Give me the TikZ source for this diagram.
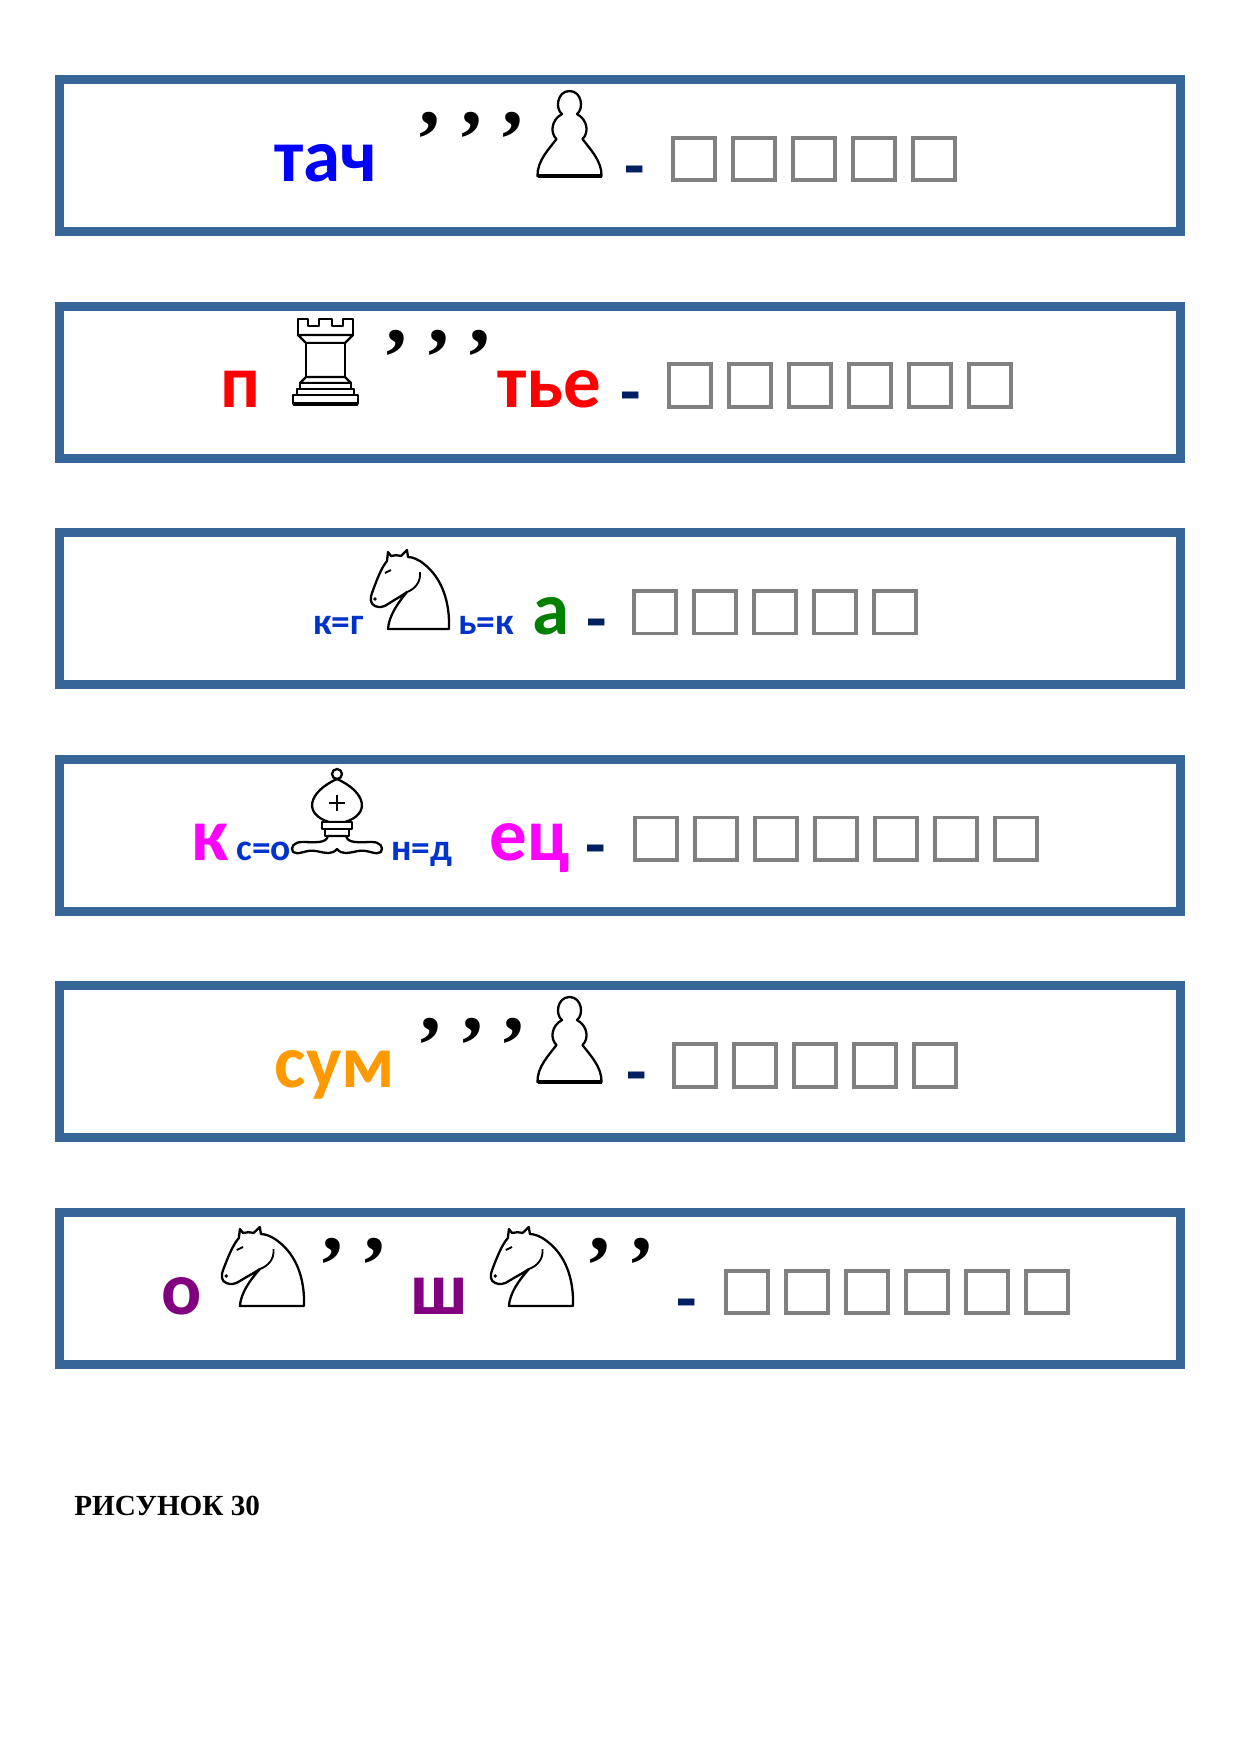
\documentclass[tikz,border=0pt]{standalone}
\usepackage{fontspec}
\setmainfont{Carlito}
\newfontfamily\markfont{Liberation Serif}

\definecolor{framecol}{RGB}{54,101,152}
\definecolor{cellgray}{RGB}{128,128,128}
\definecolor{hyphnavy}{RGB}{0,32,96}
\definecolor{hintblue}{RGB}{0,51,204}
\definecolor{wordblue}{RGB}{0,0,255}
\definecolor{wordred}{RGB}{255,0,0}
\definecolor{wordgreen}{RGB}{0,128,0}
\definecolor{wordpink}{RGB}{255,0,255}
\definecolor{wordorange}{RGB}{255,153,0}
\definecolor{wordpurple}{RGB}{128,0,128}

\begin{document}
\begin{tikzpicture}%
    [x=0.48pt, y=-0.48pt,
    frame/.style={draw=framecol, line width=4.32pt},
    cell/.style={draw=cellgray, line width=1.8pt},
    word/.style={anchor=base west, inner sep=0pt, font=\bfseries\fontsize{36}{36}\selectfont},
    hint/.style={anchor=base west, inner sep=0pt, text=hintblue, font=\bfseries\fontsize{18}{18}\selectfont},
    marks/.style={anchor=north west, inner sep=0pt, font=\markfont\bfseries\fontsize{40}{40}\selectfont},
    hyph/.style={anchor=base, inner sep=0pt, text=hyphnavy, font=\bfseries\fontsize{32}{32}\selectfont},
    piecepen/.style={draw=black, fill=white, line width=1.1pt, line join=round},
    pawn/.pic={
      \draw [piecepen] (1.5,85) .. controls (1,70) and (13,58) .. (20.5,48)
        .. controls (14,42) and (15,29) .. (26,23)
        .. controls (19,18) and (21,0) .. (33.5,0)
        .. controls (46,0) and (48,18) .. (41,23)
        .. controls (52,29) and (53,42) .. (46.5,48)
        .. controls (54,58) and (66,70) .. (65.5,85) -- cycle;
      \draw [line width=2pt] (1.5,85) -- (65.5,85);},
    rook/.pic={
      \draw [piecepen] (10,0) -- (10,16) -- (65,16) -- (65,0) -- (55,0) -- (55,7)
        -- (44,7) -- (44,0) -- (31,0) -- (31,7) -- (20,7) -- (20,0) -- cycle;
      \draw [piecepen] (10,16) -- (18,24) -- (57,24) -- (65,16) -- cycle;
      \draw [piecepen] (18,24) rectangle (57,58);
      \draw [piecepen] (18,58) -- (12,64) -- (63,64) -- (57,58) -- cycle;
      \draw [piecepen] (12,64) rectangle (63,70);
      \draw [piecepen] (9,70) rectangle (66,76);
      \draw [piecepen] (5,76) rectangle (70,85);
      \draw [line width=2pt] (5,85) -- (70,85);},
    knight/.pic={
      \draw [piecepen] (18,79) -- (79,79)
        .. controls (80,52) and (72,28) .. (54,14)
        .. controls (48,9) and (42,7) .. (38,7)
        -- (37,0) -- (31,6)
        .. controls (27,5) and (24,5) .. (21,6)
        -- (18,2) -- (17,11)
        .. controls (11,18) and (6,32) .. (2,43)
        .. controls (0,48) and (0,54) .. (5,56)
        .. controls (9,58) and (14,57) .. (18,54)
        .. controls (24,50) and (30,47) .. (37,42)
        .. controls (27,54) and (19,66) .. (18,79) -- cycle;
      \draw [line width=0.9pt] (15,23) -- (21,20);
      \draw [line width=0.9pt] (50,22) .. controls (51,32) and (45,39) .. (37,42);
      \draw [fill=black] (5,49) circle (1.2);},
    bishop/.pic={
      \draw [piecepen] (47,6) circle (5);
      \draw [piecepen] (39,54) .. controls (13,46) and (18,24) .. (47,11)
        .. controls (76,24) and (81,46) .. (55,54) -- cycle;
      \draw [line width=1.4pt] (47,27) -- (47,43) (39,35) -- (55,35);
      \draw [piecepen] (32,54) rectangle (62,61);
      \draw [piecepen] (35,61) rectangle (59,68);
      \draw [piecepen] (38,68) .. controls (36,76) and (24,74) .. (12,74)
        .. controls (4,74) and (0,79) .. (3,84)
        .. controls (8,88) and (16,81) .. (26,83)
        .. controls (36,85) and (42,87) .. (47,81)
        .. controls (52,87) and (58,85) .. (68,83)
        .. controls (78,81) and (86,88) .. (91,84)
        .. controls (94,79) and (90,74) .. (82,74)
        .. controls (70,74) and (58,76) .. (56,68) -- cycle;}]

    \useasboundingbox (0,0) rectangle (1240,1755);

    % frames
    \foreach \i in {0,...,5}
      \draw [frame] (59.5,{79.5+226.6*\i}) rectangle (1180.5,{231.5+226.6*\i});

    % row 1
    \node [word, text=wordblue] (tach) at (274,181) {тач};
    \node [marks] (marks1) at (419,112) {, , ,};
    \pic (pawn1) at (536,91) {pawn};
    \node [hyph] (hyph1) at (635,188) {-};
    \foreach \k in {0,...,4}
      \draw [cell] ({672.75+60*\k},137.75) rectangle ++(42.5,42.5);

    % row 2
    \node [word, text=wordred] (p) at (220.5,407.6) {п};
    \pic (rook1) at (288,319) {rook};
    \node [marks] (marks2) at (386,329.6) {, , ,};
    \node [word, text=wordred] (tie) at (497,407.6) {тье};
    \node [hyph] (hyph2) at (631,414.6) {-};
    \foreach \k in {0,...,5}
      \draw [cell] ({668.75+60*\k},364.35) rectangle ++(42.5,42.5);

    % row 3
    \node [hint] (kg) at (313,634.2) {к=г};
    \pic (knight1) at (370,550) {knight};
    \node [hint] (bk) at (458,634.2) {ь=к};
    \node [word, text=wordgreen] (a) at (532.5,634.2) {а};
    \node [hyph] (hyph3) at (596.5,641.2) {-};
    \foreach \k in {0,...,4}
      \draw [cell] ({633.75+60*\k},590.95) rectangle ++(42.5,42.5);

    % row 4
    \node [word, text=wordpink] (k) at (191,860.8) {к};
    \node [hint] (so) at (236,860.8) {с=о};
    \pic (bishop1) at (290,768) {bishop};
    \node [hint] (nd) at (391,860.8) {н=д};
    \node [word, text=wordpink] (ets) at (489,860.8) {ец};
    \node [hyph] (hyph4) at (596,867.8) {-};
    \foreach \k in {0,...,6}
      \draw [cell] ({634.75+60*\k},817.55) rectangle ++(42.5,42.5);

    % row 5
    \node [word, text=wordorange] (sum) at (274.5,1087.4) {сум};
    \node [marks] (marks5) at (420,1018) {, , ,};
    \pic (pawn2) at (536,997) {pawn};
    \node [hyph] (hyph5) at (637,1094.4) {-};
    \foreach \k in {0,...,4}
      \draw [cell] ({673.75+60*\k},1044.15) rectangle ++(42.5,42.5);

    % row 6
    \node [word, text=wordpurple] (o) at (161.5,1314) {о};
    \pic [xscale=1.05] (knight2) at (221,1227) {knight};
    \node [marks] (marks6a) at (322,1238) {, ,};
    \node [word, text=wordpurple] (sh) at (410.5,1314) {ш};
    \pic [xscale=1.05] (knight3) at (490,1227) {knight};
    \node [marks] (marks6b) at (589,1238) {, ,};
    \node [hyph] (hyph6) at (687,1321) {-};
    \foreach \k in {0,...,5}
      \draw [cell] ({725.75+60*\k},1270.75) rectangle ++(42.5,42.5);

    % caption
    \node [anchor=base west, inner sep=0pt, font=\markfont\bfseries\fontsize{14}{14}\selectfont] (caption) at (74,1515) {РИСУНОК 30};
\end{tikzpicture}
\end{document}
